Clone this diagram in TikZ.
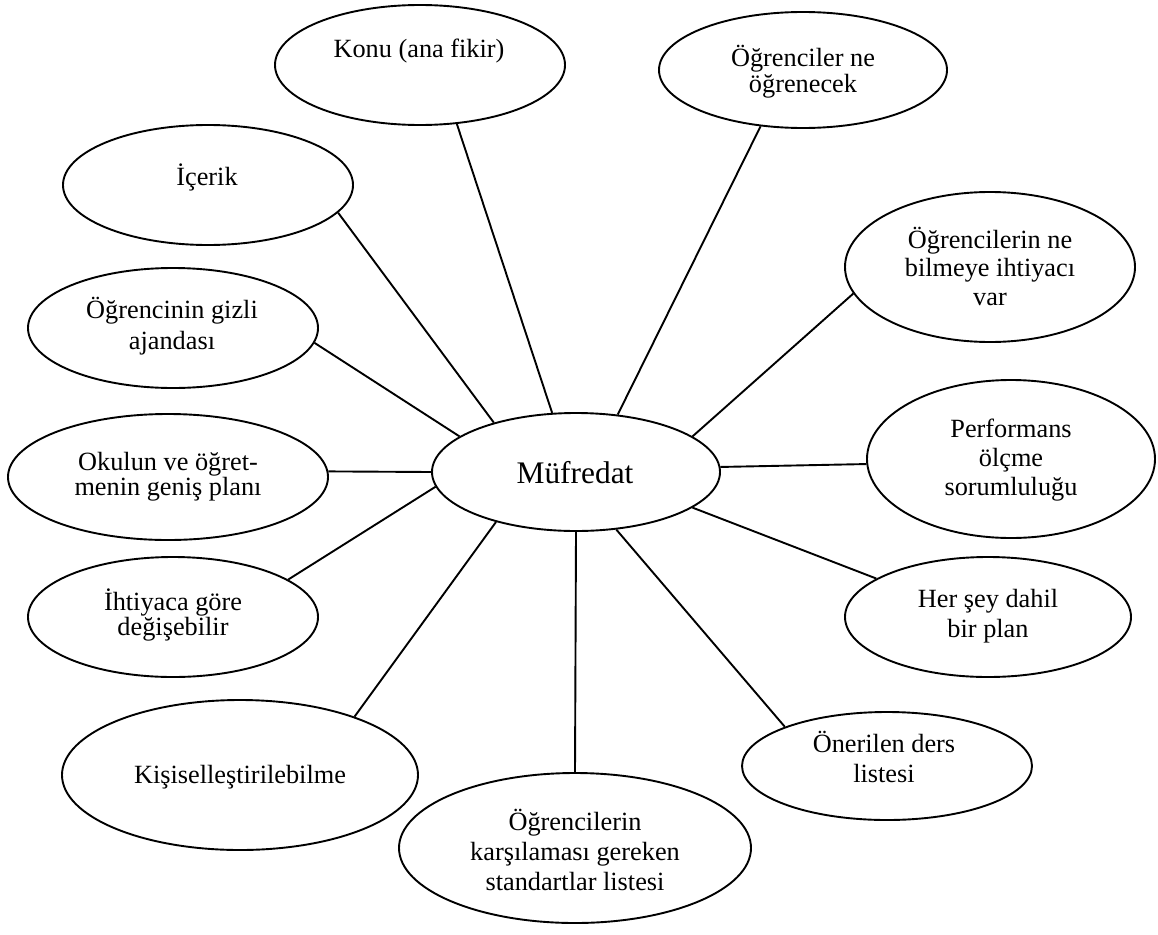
\documentclass[tikz,border=0pt]{standalone}
\usepackage{fontspec}
\setmainfont{Liberation Serif}
\usetikzlibrary{shapes.geometric}
\begin{document}
\begin{tikzpicture}[x=1pt,y=-1pt,
  bubble/.style={draw=black, line width=1.9pt, ellipse, inner sep=0pt},
  link/.style={draw=black, line width=1.9pt},
  % texts are anchored at the baseline of their last line
  lbl/.style={anchor=base, align=center, inner sep=0pt, font=\fontsize{26.3}{30}\selectfont},
  tight/.style={font=\fontsize{26.3}{25}\selectfont}]
\fill[white] (0,0) rectangle (1158,934);
\useasboundingbox (0,0) rectangle (1158,934);

% outlines
\node[bubble, minimum width=288pt, minimum height=118pt] (muf) at (576,472) {};
\node[bubble, minimum width=290pt, minimum height=120pt] (konu) at (420,65) {};
\node[bubble, minimum width=288pt, minimum height=116pt] (ogr) at (803,70) {};
\node[bubble, minimum width=290pt, minimum height=120pt] (icerik) at (208,185) {};
\node[bubble, minimum width=290pt, minimum height=120pt] (gizli) at (173,328) {};
\node[bubble, minimum width=290pt, minimum height=150pt] (ihtvar) at (990,267) {};
\node[bubble, minimum width=320pt, minimum height=126pt] (okul) at (168,477) {};
\node[bubble, minimum width=288pt, minimum height=158pt] (perf) at (1011,459) {};
\node[bubble, minimum width=290pt, minimum height=120pt] (degis) at (173,617) {};
\node[bubble, minimum width=286pt, minimum height=120pt] (hersey) at (988,617) {};
\node[bubble, minimum width=356pt, minimum height=150pt] (kisi) at (240,775) {};
\node[bubble, minimum width=290pt, minimum height=108pt] (oner) at (887,766) {};
\node[bubble, minimum width=352pt, minimum height=150pt] (std) at (575,848) {};

% texts
\node[lbl, font=\fontsize{31.4}{36}\selectfont] (muf-t) at (575,483) {Müfredat};
\node[lbl] (konu-t) at (419,57) {Konu (ana fikir)};
\node[lbl, tight] (ogr-t) at (803,92) {Öğrenciler ne\\öğrenecek};
\node[lbl] (icerik-t) at (207,185) {İçerik};
\node[lbl, font=\fontsize{26.3}{31}\selectfont] (gizli-t) at (172,349) {Öğrencinin gizli\\ajandası};
\node[lbl, font=\fontsize{26.3}{28.5}\selectfont] (ihtvar-t) at (990,305) {Öğrencilerin ne\\bilmeye ihtiyacı\\var};
\node[lbl, tight] (okul-t) at (168,495) {Okulun ve öğret-\\menin geniş planı};
\node[lbl, font=\fontsize{26.3}{29}\selectfont] (perf-t) at (1011,495) {Performans\\ölçme\\sorumluluğu};
\node[lbl, tight] (degis-t) at (173,635) {İhtiyaca göre\\değişebilir};
\node[lbl] (hersey-t) at (988,637) {Her şey dahil\\bir plan};
\node[lbl] (kisi-t) at (240,783) {Kişiselleştirilebilme};
\node[lbl] (oner-t) at (884,782) {Önerilen ders\\listesi};
\node[lbl] (std-t) at (575,890) {Öğrencilerin\\karşılaması gereken\\standartlar listesi};

% spokes
\draw[link] (muf.112) -- (konu.302);
\draw[link] (muf.54) -- (ogr.233);
\draw[link] (muf.149) -- (icerik.348);
\draw[link] (muf.163) -- (gizli.354);
\draw[link] (muf.180) -- (okul.2);
\draw[link] (muf.186) -- (degis.18);
\draw[link] (muf.212) -- (kisi.27);
\draw[link] (muf.south) -- (std.north);
\draw[link] (muf.305) -- (oner.159);
\draw[link] (muf.343) -- (hersey.161);
\draw[link] (muf.2) -- (perf.182);
\draw[link] (muf.17) -- (ihtvar.191);
\end{tikzpicture}
\end{document}
